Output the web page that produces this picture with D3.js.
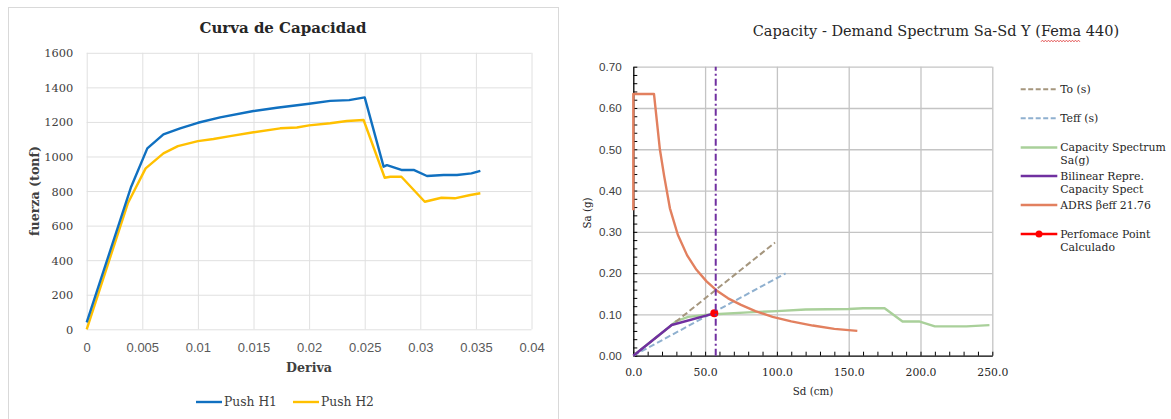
<!DOCTYPE html>
<html>
<head>
<meta charset="utf-8">
<script src="https://cdn.jsdelivr.net/npm/d3@7"></script>
<style>
  body { margin: 0; background: #fff; }
  svg { display: block; }
</style>
</head>
<body>
<svg id="chart" width="1171" height="419"></svg>
<script>
// ---------- Curva de Capacidad (pushover) ----------
const driftTicks = [0, 0.005, 0.01, 0.015, 0.02, 0.025, 0.03, 0.035, 0.04];
const forceTicks = [0, 200, 400, 600, 800, 1000, 1200, 1400, 1600];

const h1Drift = [0, 0.0040, 0.00545, 0.0069, 0.0084, 0.0100, 0.0120, 0.0150, 0.0171, 0.0200, 0.0219, 0.0236, 0.0250, 0.0267, 0.0270, 0.0283, 0.0294, 0.0306, 0.0321, 0.0333, 0.0346, 0.0354];
const h1Force = [40, 825, 1047, 1128, 1163, 1195, 1226, 1263, 1282, 1305, 1322, 1326, 1342, 941, 950, 922, 922, 887, 893, 893, 902, 917];

const h2Drift = [0, 0.0037, 0.0053, 0.0069, 0.0082, 0.0100, 0.0114, 0.0129, 0.0150, 0.0174, 0.0189, 0.0200, 0.0219, 0.0234, 0.0249, 0.0268, 0.0273, 0.0283, 0.0304, 0.0319, 0.0331, 0.0345, 0.0354];
const h2Force = [0, 729, 931, 1018, 1060, 1089, 1101, 1118, 1140, 1163, 1168, 1180, 1192, 1205, 1211, 877, 883, 883, 738, 761, 758, 777, 787];

const pushNames = ["Push H1", "Push H2"];

// ---------- Capacity - Demand Spectrum (FEMA 440) ----------
const sdTicks = [0, 50, 100, 150, 200, 250];
const saTicks = [0, 0.1, 0.2, 0.3, 0.4, 0.5, 0.6, 0.7];

const adrsSd = [0, 0, 14.4, 18.5, 21.5, 25.5, 31, 37.5, 44, 51, 58, 66, 75, 85, 97, 110, 125, 140, 156];
const adrsSa = [0.352, 0.634, 0.634, 0.50, 0.435, 0.357, 0.293, 0.243, 0.208, 0.180, 0.158, 0.139, 0.123, 0.108, 0.094, 0.083, 0.073, 0.065, 0.060];

const capSd = [0, 26.7, 30, 38.3, 50, 60, 80, 100, 120, 150, 160, 175, 187.5, 199, 210, 232, 248];
const capSa = [0, 0.074, 0.084, 0.094, 0.0985, 0.101, 0.105, 0.108, 0.112, 0.113, 0.115, 0.115, 0.083, 0.083, 0.071, 0.071, 0.074];

const biSd = [0, 26.7, 56.4];
const biSa = [0, 0.0743, 0.1027];

const toSd = [0, 98.7];
const toSa = [0, 0.274];

const teffSd = [0, 106.1];
const teffSa = [0, 0.1995];

const perfSd = [56.4];
const perfSa = [0.1027];

const dispLimitSd = 57.4;

const spectrumNames = ["To (s)", "Teff (s)", "Capacity Spectrum|Sa(g)", "Bilinear Repre.|Capacity Spect", "ADRS \u03B2eff 21.76", "Perfomace Point|Calculado"];

// ---------- helpers ----------
const svg = d3.select("#chart");
const SERIF = "'DejaVu Serif', 'Liberation Serif', serif";
const SANS = "'Liberation Sans', Arial, sans-serif";

svg.append("rect").attr("width", 1171).attr("height", 419).attr("fill", "#fff");

// font size that makes a string span the given width
function sizeFor(str, family, weight, width) {
  const t = svg.append("text").attr("font-family", family).attr("font-weight", weight)
    .attr("font-size", 100).text(str);
  const w = t.node().getComputedTextLength();
  t.remove();
  return 100 * width / w;
}
const zip = (xs, ys) => xs.map((x, i) => [x, ys[i]]);

// =================== left chart ===================
const L = svg.append("g");
L.append("rect").attr("x", 8.5).attr("y", 7.5).attr("width", 550).attr("height", 430)
  .attr("fill", "#fff").attr("stroke", "#d9d9d9").attr("stroke-width", 1);

const xL = d3.scaleLinear().domain([0, 0.04]).range([86.7, 531.5]);
const yL = d3.scaleLinear().domain([0, 1600]).range([329.3, 52.8]);

const fsTitleL = sizeFor("Curva de Capacidad", SERIF, "bold", 167);
L.append("text").attr("x", 283).attr("y", 27.5).attr("dominant-baseline", "central")
  .attr("text-anchor", "middle").attr("font-family", SERIF).attr("font-weight", "bold")
  .attr("font-size", fsTitleL).attr("fill", "#262626").text("Curva de Capacidad");

const fsYTickL = sizeFor("1600", SERIF, "normal", 29);
const fsXTickL = sizeFor("0.005", SANS, "normal", 32.5);

// gridlines + tick labels through the D3 axes
const gxL = L.append("g").attr("transform", `translate(0,${yL(0)})`)
  .call(d3.axisBottom(xL).tickValues(driftTicks).tickSize(-(yL(0) - yL(1600)))
    .tickFormat(d => String(+d.toFixed(3))));
gxL.select(".domain").remove();
gxL.selectAll(".tick line").attr("stroke", "#e0e0e0").attr("stroke-width", 1);
gxL.selectAll(".tick text").attr("y", 18).attr("dy", "0.35em")
  .attr("font-family", SANS).attr("font-size", fsXTickL).attr("fill", "#595959");

const gyL = L.append("g").attr("transform", `translate(${xL(0)},0)`)
  .call(d3.axisLeft(yL).tickValues(forceTicks).tickSize(-(xL(0.04) - xL(0)))
    .tickFormat(d => String(d)));
gyL.select(".domain").remove();
gyL.selectAll(".tick line").attr("stroke", "#e0e0e0").attr("stroke-width", 1);
gyL.selectAll(".tick text").attr("x", -13.4).attr("dy", "0.35em")
  .attr("font-family", SERIF).attr("font-size", fsYTickL).attr("fill", "#404040");

const lineL = d3.line().x(d => xL(d[0])).y(d => yL(d[1]));
const pushColors = ["#1070C0", "#FFC000"];
L.append("path").datum(zip(h2Drift, h2Force)).attr("d", lineL)
  .attr("fill", "none").attr("stroke", pushColors[1]).attr("stroke-width", 2.4).attr("stroke-linejoin", "round");
L.append("path").datum(zip(h1Drift, h1Force)).attr("d", lineL)
  .attr("fill", "none").attr("stroke", pushColors[0]).attr("stroke-width", 2.4).attr("stroke-linejoin", "round");

const fsAxL = sizeFor("Deriva", SERIF, "bold", 46);
L.append("text").attr("x", 309).attr("y", 367).attr("dominant-baseline", "central")
  .attr("text-anchor", "middle").attr("font-family", SERIF).attr("font-weight", "bold")
  .attr("font-size", fsAxL).attr("fill", "#404040").text("Deriva");
L.append("text").attr("transform", "translate(34,191) rotate(-90)").attr("dominant-baseline", "central")
  .attr("text-anchor", "middle").attr("font-family", SERIF).attr("font-weight", "bold")
  .attr("font-size", fsAxL).attr("fill", "#404040").text("fuerza (tonf)");

const fsLegL = sizeFor("Push H1", SERIF, "normal", 53);
const legL = L.append("g").selectAll("g").data(pushNames).join("g")
  .attr("transform", (d, i) => `translate(${196 + i * 97},402)`);
legL.append("line").attr("x1", 0).attr("x2", 26).attr("stroke", (d, i) => pushColors[i]).attr("stroke-width", 2.4);
legL.append("text").attr("x", 28).attr("dominant-baseline", "central").attr("font-family", SERIF)
  .attr("font-size", fsLegL).attr("fill", "#404040").text(d => d);

// =================== right chart ===================
const R = svg.append("g");
const xR = d3.scaleLinear().domain([0, 250]).range([633.3, 992.3]);
const yR = d3.scaleLinear().domain([0, 0.7]).range([355.7, 66.7]);

const titleR = "Capacity - Demand Spectrum Sa-Sd Y (Fema 440)";
const fsTitleR = sizeFor(titleR, SERIF, "normal", 367);
const tR = R.append("text").attr("x", 936).attr("y", 36).attr("text-anchor", "middle")
  .attr("font-family", SERIF).attr("font-size", fsTitleR).attr("fill", "#262626").text(titleR);
// spell-check squiggle under "Fema"
{
  const node = tR.node();
  const i0 = titleR.indexOf("Fema");
  const sx = node.getStartPositionOfChar(i0).x;
  const sw = node.getSubStringLength(i0, 4);
  const pts = [];
  for (let x = 0, k = 0; x <= sw; x += 1.5, k++) pts.push([sx + x, 41 + (k % 2 ? -0.9 : 0.9)]);
  R.append("path").attr("d", d3.line()(pts)).attr("fill", "none").attr("stroke", "#e04040").attr("stroke-width", 0.8);
}

// gridlines
const gridR = R.append("g");
gridR.append("g").attr("transform", `translate(0,${yR(0)})`)
  .call(d3.axisBottom(xR).tickValues(sdTicks.slice(1)).tickSize(-(yR(0) - yR(0.7))).tickFormat(""))
  .call(g => g.select(".domain").remove())
  .call(g => g.selectAll(".tick line").attr("stroke", "#c4c4c4").attr("stroke-width", 1.3));
gridR.append("g").attr("transform", `translate(${xR(0)},0)`)
  .call(d3.axisLeft(yR).tickValues(saTicks.slice(1)).tickSize(-(xR(250) - xR(0))).tickFormat(""))
  .call(g => g.select(".domain").remove())
  .call(g => g.selectAll(".tick line").attr("stroke", "#c4c4c4").attr("stroke-width", 1.3));

// axes with inward minor ticks
const fsYTickR = sizeFor("0.70", SANS, "normal", 22.7);
const fsXTickR = sizeFor("250.0", SERIF, "normal", 31);
const saMinor = d3.range(0, 36).map(i => +(i * 0.02).toFixed(2));
const sdMinor = d3.range(0, 26).map(i => i * 10);

const ayR = R.append("g").attr("transform", `translate(${xR(0)},0)`)
  .call(d3.axisLeft(yR).tickValues(saMinor).tickSize(-4).tickSizeOuter(0).tickPadding(11.5)
    .tickFormat(d => saTicks.some(t => Math.abs(t - d) < 1e-6) ? d.toFixed(2) : ""));
ayR.select(".domain").attr("stroke", "#000").attr("stroke-width", 1.3);
ayR.selectAll(".tick line").attr("stroke", "#000").attr("stroke-width", 1);
ayR.selectAll(".tick text").attr("font-family", SANS).attr("font-size", fsYTickR).attr("fill", "#404040");

const axR = R.append("g").attr("transform", `translate(0,${yR(0)})`)
  .call(d3.axisBottom(xR).tickValues(sdMinor).tickSize(-4).tickSizeOuter(0)
    .tickFormat(d => sdTicks.includes(d) ? d.toFixed(1) : ""));
axR.select(".domain").attr("stroke", "#000").attr("stroke-width", 1.3);
axR.selectAll(".tick line").attr("stroke", "#000").attr("stroke-width", 1);
axR.selectAll(".tick text").attr("y", 16.5).attr("dy", "0.35em")
  .attr("font-family", SERIF).attr("font-size", fsXTickR).attr("fill", "#262626");

const fsAxR = sizeFor("Sd (cm)", SERIF, "normal", 40.6);
R.append("text").attr("x", 813).attr("y", 391).attr("dominant-baseline", "central").attr("text-anchor", "middle")
  .attr("font-family", SERIF).attr("font-size", fsAxR).attr("fill", "#262626").text("Sd (cm)");
R.append("text").attr("transform", "translate(587,213) rotate(-90)").attr("dominant-baseline", "central")
  .attr("text-anchor", "middle").attr("font-family", SERIF).attr("font-size", fsAxR)
  .attr("fill", "#262626").text("Sa (g)");

// series
const lineR = d3.line().x(d => xR(d[0])).y(d => yR(d[1]));
const spectrumColors = ["#A5967E", "#8FB0CF", "#A9D09A", "#7030A0", "#E2805F", "#FF0000"];
const plotR = R.append("g");
plotR.append("path").datum(zip(capSd, capSa)).attr("d", lineR).attr("fill", "none")
  .attr("stroke", spectrumColors[2]).attr("stroke-width", 2.4).attr("stroke-linejoin", "round");
plotR.append("path").datum(zip(toSd, toSa)).attr("d", lineR).attr("fill", "none")
  .attr("stroke", spectrumColors[0]).attr("stroke-width", 2).attr("stroke-dasharray", "6,3");
plotR.append("path").datum(zip(teffSd, teffSa)).attr("d", lineR).attr("fill", "none")
  .attr("stroke", spectrumColors[1]).attr("stroke-width", 2).attr("stroke-dasharray", "6,3");
plotR.append("path").datum(zip(biSd, biSa)).attr("d", lineR).attr("fill", "none")
  .attr("stroke", spectrumColors[3]).attr("stroke-width", 2.4).attr("stroke-linejoin", "round");
plotR.append("path").datum(zip(adrsSd, adrsSa)).attr("d", lineR).attr("fill", "none")
  .attr("stroke", spectrumColors[4]).attr("stroke-width", 2.4).attr("stroke-linejoin", "round");
plotR.selectAll("circle.perf").data(zip(perfSd, perfSa)).join("circle").attr("class", "perf")
  .attr("cx", d => xR(d[0])).attr("cy", d => yR(d[1])).attr("r", 4).attr("fill", spectrumColors[5]);
plotR.append("line").attr("x1", xR(dispLimitSd)).attr("x2", xR(dispLimitSd))
  .attr("y1", yR(0)).attr("y2", yR(0.7)).attr("stroke", "#7030A0").attr("stroke-width", 2)
  .attr("stroke-dasharray", "7,3,2,3");

// legend
const fsLegR = sizeFor("Capacity Spectrum", SERIF, "normal", 105.7);
const legY = [89.3, 118.3, 147.5, 176, 205, 234];
const legR = R.append("g").selectAll("g").data(spectrumNames).join("g")
  .attr("transform", (d, i) => `translate(1020.7,${legY[i]})`);
legR.append("line").attr("x1", 0).attr("x2", 36.6)
  .attr("stroke", (d, i) => spectrumColors[i]).attr("stroke-width", (d, i) => i < 2 ? 2 : 2.4)
  .attr("stroke-dasharray", (d, i) => i < 2 ? "5,2.5" : null);
legR.filter((d, i) => i === 5).append("circle").attr("cx", 18.3).attr("r", 3.5).attr("fill", spectrumColors[5]);
legR.append("text").attr("x", 39.5).attr("font-family", SERIF).attr("font-size", fsLegR).attr("fill", "#262626")
  .each(function (d) {
    const parts = d.split("|");
    d3.select(this).selectAll("tspan").data(parts).join("tspan")
      .attr("x", 39.5).attr("dy", (p, j) => j === 0 ? "0.35em" : "1.2em").text(p => p);
  });
</script>
</body>
</html>
